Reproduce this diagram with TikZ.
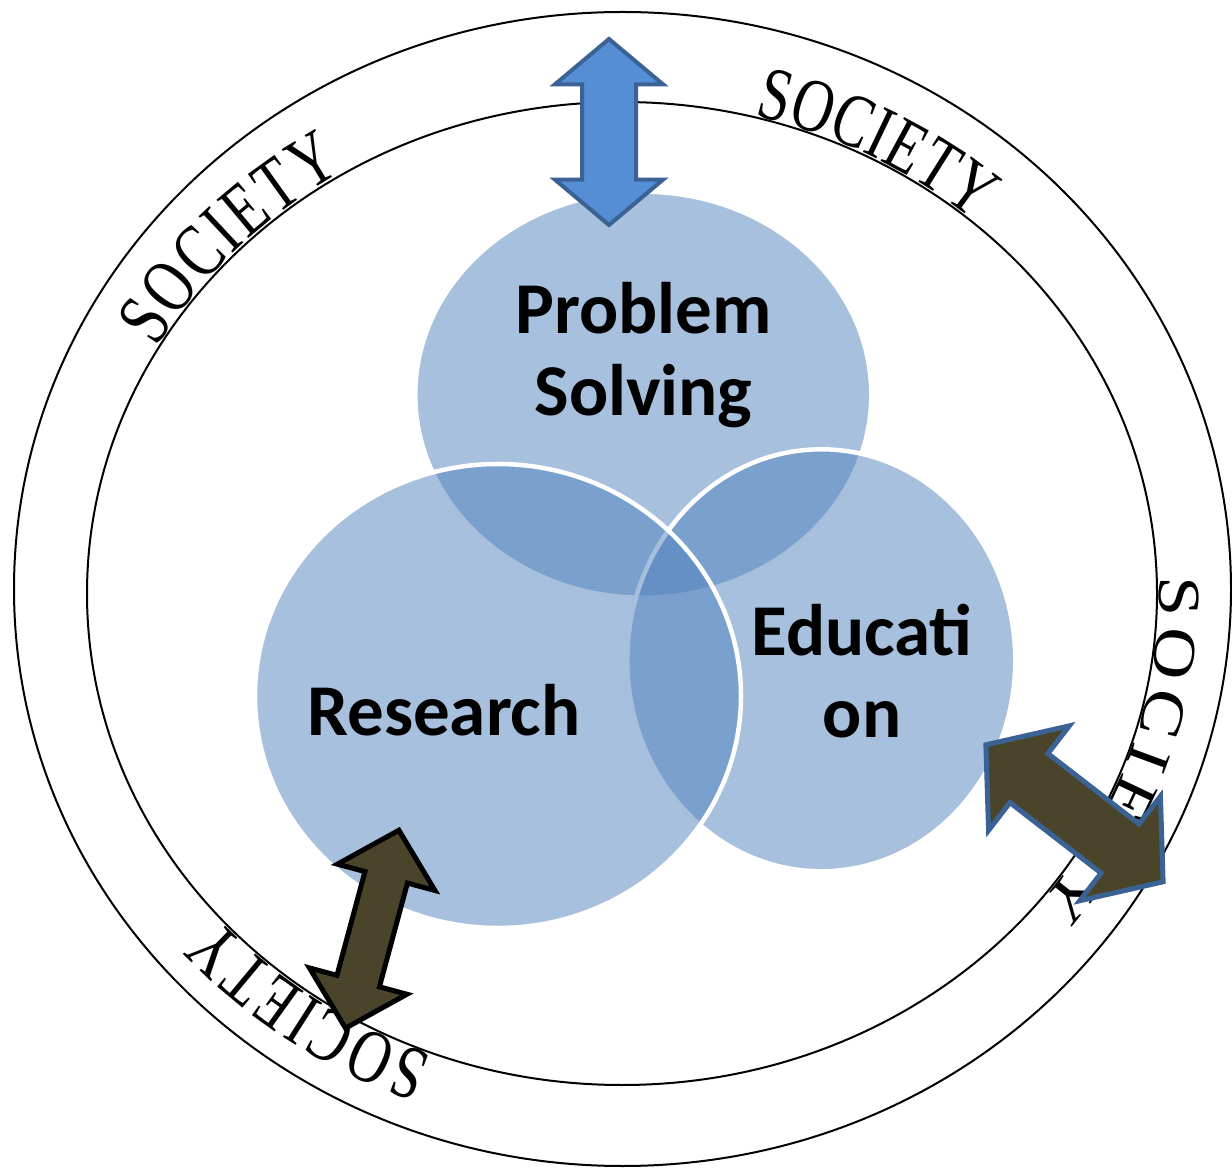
\documentclass[tikz,border=0pt]{standalone}
\usepackage{fontspec}
\usepackage{tikz}
\usetikzlibrary{shapes.arrows, decorations.text}
\newfontfamily\lblfont{Carlito}
\newfontfamily\socfont[FakeStretch=0.75]{Liberation Serif}
\newfontfamily\socwidefont[FakeStretch=1.2]{Liberation Serif}
\definecolor{venncol}{RGB}{79,129,189}
\definecolor{topblue}{RGB}{85,142,213}
\definecolor{edgeblue}{RGB}{59,98,148}
\definecolor{olive}{RGB}{74,69,42}
\tikzset{
    ring/.style={draw=black, line width=1pt},
    venn/.style={fill=venncol, fill opacity=0.5, draw=white, draw opacity=1, line width=2.25pt},
    vennlabel/.style={font=\lblfont\bfseries\fontsize{36.5}{41}\selectfont, align=center, anchor=base, inner sep=0pt},
    blockarrow/.style={double arrow, outer sep=0pt, line join=miter},
    society/.style={decorate, decoration={text along path, text align=fit to path, raise=1pt, text={#1}}}
}

\begin{document}
\begin{tikzpicture}[x=0.5pt, y=0.5pt]
	\useasboundingbox (0,0) rectangle (1232,-1170);
	\coordinate (mid) at (622.5,-589);
	\coordinate (core) at (622,-593.5);
	\draw[ring] (mid) ellipse [x radius=608.5, y radius=577];
	\draw[ring] (core) ellipse [x radius=535, y radius=491.5];
	\path[society={|\socfont\fontsize{38}{38}\selectfont|SOCIETY}] ([shift={(150.1:535 and 491.5)}]core) arc[start angle=150.1, end angle=121.3, x radius=535, y radius=491.5];
	\path[society={|\socfont\fontsize{38}{38}\selectfont|SOCIETY}] ([shift={(75.7:535 and 491.5)}]core) arc[start angle=75.7, end angle=49, x radius=535, y radius=491.5];
	\path[society={|\socwidefont\fontsize{30}{30}\selectfont|SOCIETY}] ([shift={(2:535 and 491.5)}]core) arc[start angle=2, end angle=-39, x radius=535, y radius=491.5];
	\path[society={|\socfont\fontsize{38}{38}\selectfont|SOCIETY}] ([shift={(-110.7:535 and 491.5)}]core) arc[start angle=-110.7, end angle=-139, x radius=535, y radius=491.5];
	\coordinate (prob) at (643.3,-394.7);
	\coordinate (edu) at (821.3,-660.3);
	\coordinate (res) at (498,-696);
	\draw[venn] (prob) ellipse [x radius=228, y radius=203];
	\draw[venn] (edu) ellipse [x radius=194, y radius=211];
	\draw[venn] (res) ellipse [x radius=243, y radius=232];
	\node[vennlabel] (probtext) at (643.5,-416) {Problem\\Solving};
	\node[vennlabel] (restext) at (444,-735) {Research};
	\node[vennlabel] (edutext) at (862,-738) {Educati\\on};
	\node[blockarrow, fill=topblue, draw=edgeblue, line width=2pt, rotate=90, minimum height=93pt, minimum width=52pt, inner sep=12.5pt, double arrow head extend=13.5pt, double arrow tip angle=100] (probarrow) at (609,-132) {};
	\node[blockarrow, fill=olive, draw=black, line width=2.5pt, rotate=74.9, minimum height=102.5pt, minimum width=48pt, inner sep=9.75pt, double arrow head extend=14.25pt, double arrow tip angle=92] (resarrow) at (372.2,-929.2) {};
	\node[blockarrow, fill=olive, draw=edgeblue, line width=2.5pt, rotate=-37.7, minimum height=112pt, minimum width=63.5pt, inner sep=14.25pt, double arrow head extend=17.5pt, double arrow tip angle=101] (eduarrow) at (1074.5,-813.3) {};
\end{tikzpicture}
\end{document}
